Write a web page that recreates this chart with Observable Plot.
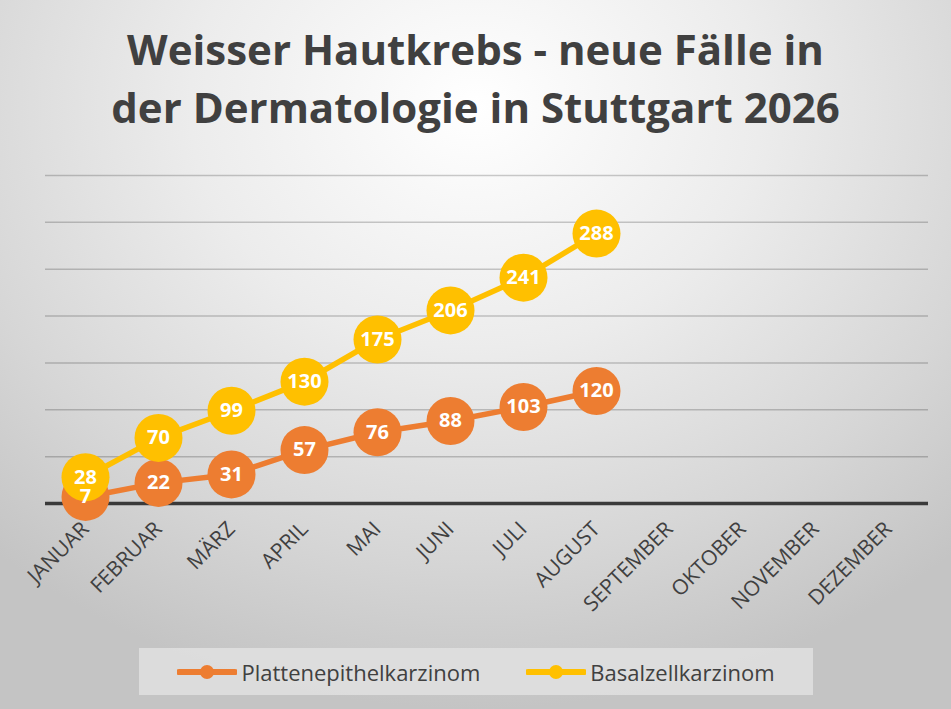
<!DOCTYPE html>
<html>
<head>
<meta charset="utf-8">
<script src="https://cdn.jsdelivr.net/npm/d3@7"></script>
<script src="https://cdn.jsdelivr.net/npm/@observablehq/plot@0.6"></script>
<style>
  html, body { margin: 0; padding: 0; }
  #chart {
    position: relative; width: 951px; height: 709px; overflow: hidden;
    background: radial-gradient(ellipse 75% 85% at 50% 15%, #ffffff 0%, #ececec 40%, #d6d6d6 75%, #c4c4c4 100%);
    font-family: "Open Sans", sans-serif;
  }
  #title {
    position: absolute; top: 20px; left: 0; width: 951px; text-align: center;
    font-family: "Open Sans", sans-serif; font-weight: 700; font-size: 42px; line-height: 58px;
    color: #404040;
  }
  #plot { position: absolute; left: 0; top: 160px; }
  #legend {
    position: absolute; left: 139px; top: 648px; width: 674px; height: 47px;
    background: rgba(225,225,225,0.85);
    display: flex; align-items: center; justify-content: center; gap: 46px;
    font-size: 22px; color: #404040;
  }
  .item { display: flex; align-items: center; }
  .item svg { margin-right: 4px; }
</style>
</head>
<body>
<div id="chart">
  <div id="title">Weisser Hautkrebs - neue Fälle in<br>der Dermatologie in Stuttgart 2026</div>
  <div id="plot"></div>
  <div id="legend"></div>
</div>
<script>
const months = ["JANUAR","FEBRUAR","MÄRZ","APRIL","MAI","JUNI","JULI","AUGUST","SEPTEMBER","OKTOBER","NOVEMBER","DEZEMBER"];
const seriesNames = ["Plattenepithelkarzinom", "Basalzellkarzinom"];
const plattenValues = [7, 22, 31, 57, 76, 88, 103, 120];
const basalValues = [28, 70, 99, 130, 175, 206, 241, 288];
const gridTicks = [50, 100, 150, 200, 250, 300, 350];
const colors = ["#ED7D31", "#FFC000"];

const rows = [];
plattenValues.forEach((v, i) => rows.push({month: months[i], value: v, series: seriesNames[0]}));
basalValues.forEach((v, i) => rows.push({month: months[i], value: v, series: seriesNames[1]}));

const plot = Plot.plot({
  width: 951,
  height: 480,
  marginLeft: 45,
  marginRight: 23,
  marginTop: 15,
  marginBottom: 137,
  style: {background: "transparent", fontFamily: "Open Sans, sans-serif", overflow: "visible"},
  x: {type: "point", domain: months, padding: 0.5, label: null},
  y: {domain: [0, 350], axis: null},
  color: {domain: seriesNames, range: colors},
  marks: [
    Plot.ruleY(gridTicks, {stroke: "rgba(0,0,0,0.2)", strokeWidth: 1.5}),
    Plot.ruleY([0], {stroke: "#3a3a3a", strokeWidth: 3.5}),
    Plot.axisX({tickSize: 0, tickPadding: 22, tickRotate: -45, fontSize: 21, fill: "#404040", label: null}),
    Plot.line(rows, {x: "month", y: "value", z: "series", stroke: "series", strokeWidth: 5.5}),
    Plot.dot(rows, {x: "month", y: "value", fill: "series", r: 24, stroke: null}),
    Plot.text(rows, {x: "month", y: "value", text: d => String(d.value), fill: "white", fontSize: 20, fontWeight: "bold"})
  ]
});
document.getElementById("plot").appendChild(plot);

const legend = document.getElementById("legend");
seriesNames.forEach((name, i) => {
  const item = document.createElement("div");
  item.className = "item";
  item.innerHTML = `<svg width="60" height="20"><line x1="2" y1="10" x2="58" y2="10" stroke="${colors[i]}" stroke-width="6" stroke-linecap="round"/><circle cx="30" cy="10" r="7" fill="${colors[i]}"/></svg><span>${name}</span>`;
  legend.appendChild(item);
});
</script>
</body>
</html>
